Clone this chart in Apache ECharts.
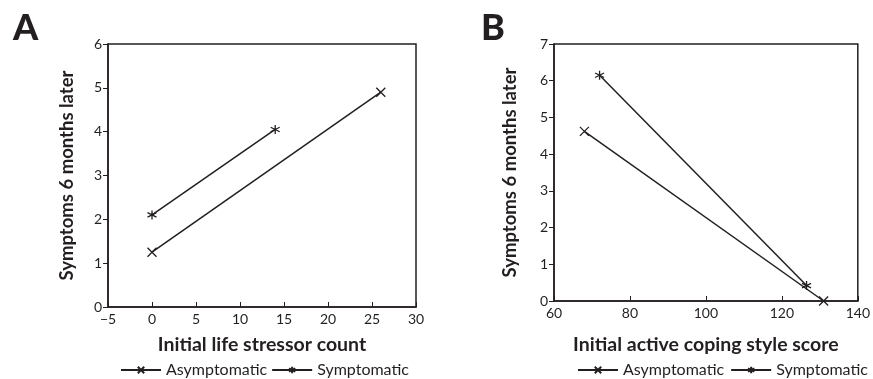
<!DOCTYPE html>
<html>
<head>
<meta charset="utf-8">
<script src="https://cdn.jsdelivr.net/npm/echarts@6/dist/echarts.min.js"></script>
<style>
  html, body {margin: 0; padding: 0; background: #fff;}
  #chart {width: 873px; height: 379px;}
</style>
</head>
<body>
<div id="chart"></div>
<script>
// panel A: initial life stressor count
const asymA = [[0, 1.25], [26, 4.9]];
const sympA = [[0, 2.1], [14, 4.05]];
// panel B: initial active coping style score
const asymB = [[68, 4.62], [131, 0]];
const sympB = [[72, 6.15], [126.5, 0.42]];
const seriesNames = ['Asymptomatic', 'Symptomatic'];
const panelLetters = ['A', 'B'];
const xNames = ['Initial life stressor count', 'Initial active coping style score'];
const yName = 'Symptoms 6 months later';

const ink = '#231f20';
const font = 'Lato';
const crossSym = 'path://M0 0L10 10M10 0L0 10';
const starSym = 'path://M5 0L5 10M0 2.5L10 7.5M10 2.5L0 7.5';

const xAxisBase = (idx, min, max, interval) => ({
  type: 'value', gridIndex: idx, min, max, interval,
  name: xNames[idx], nameLocation: 'middle', nameGap: idx ? 34 : 28,
  nameTextStyle: {fontFamily: font, fontWeight: 'bold', fontSize: 19.5, color: ink},
  axisLine: {show: true, onZero: false, lineStyle: {color: ink, width: 1.5}},
  axisTick: {show: true, inside: true, length: 5, lineStyle: {color: ink}},
  axisLabel: {fontFamily: font, fontSize: 14, color: ink, margin: 5,
    formatter: v => String(v).replace('-', '\u2212')},
  splitLine: {show: false}
});
const yAxisBase = (idx, max) => ({
  type: 'value', gridIndex: idx, min: 0, max, interval: 1,
  name: yName, nameLocation: 'middle', nameGap: idx ? 34 : 31,
  nameTextStyle: {fontFamily: font, fontWeight: 'bold', fontSize: 18.5, color: ink},
  axisLine: {show: true, onZero: false, lineStyle: {color: ink, width: 1.5}},
  axisTick: {show: true, length: 5, lineStyle: {color: ink}},
  axisLabel: {fontFamily: font, fontSize: 14, color: ink, margin: 6},
  splitLine: {show: false}
});
const lineSeries = (name, data, idx, sym) => ({
  name, type: 'line', data, xAxisIndex: idx, yAxisIndex: idx,
  symbol: sym, symbolSize: 9,
  lineStyle: {color: ink, width: 1.5},
  itemStyle: {color: 'none', borderColor: ink, borderWidth: 1.3},
  emphasis: {disabled: true},
  animation: false
});

const chart = echarts.init(document.getElementById('chart'));
chart.setOption({
  backgroundColor: '#fff',
  animation: false,
  title: panelLetters.map((t, i) => ({
    text: t, left: i ? 476 : 8, top: 5,
    textStyle: {fontFamily: font, fontWeight: 900, fontSize: 36, color: ink}
  })),
  grid: [
    {left: 108, right: 457, top: 44, bottom: 72, show: true, borderColor: ink, borderWidth: 1.5},
    {left: 554, right: 11, top: 44, bottom: 78, show: true, borderColor: ink, borderWidth: 1.5}
  ],
  xAxis: [xAxisBase(0, -5, 30, 5), xAxisBase(1, 60, 140, 20)],
  yAxis: [yAxisBase(0, 6), yAxisBase(1, 7)],
  legend: [
    {data: seriesNames, left: 120, top: 362, width: 320, padding: 0, itemWidth: 40, itemHeight: 8, itemGap: 4,
      textStyle: {fontFamily: font, fontSize: 16, color: ink}},
    {data: seriesNames, left: 577, top: 362, width: 296, padding: 0, itemWidth: 40, itemHeight: 8, itemGap: 6,
      textStyle: {fontFamily: font, fontSize: 16, color: ink}}
  ],
  series: [
    lineSeries(seriesNames[0], asymA, 0, crossSym),
    lineSeries(seriesNames[1], sympA, 0, starSym),
    lineSeries(seriesNames[0], asymB, 1, crossSym),
    lineSeries(seriesNames[1], sympB, 1, starSym)
  ]
});
</script>
</body>
</html>
